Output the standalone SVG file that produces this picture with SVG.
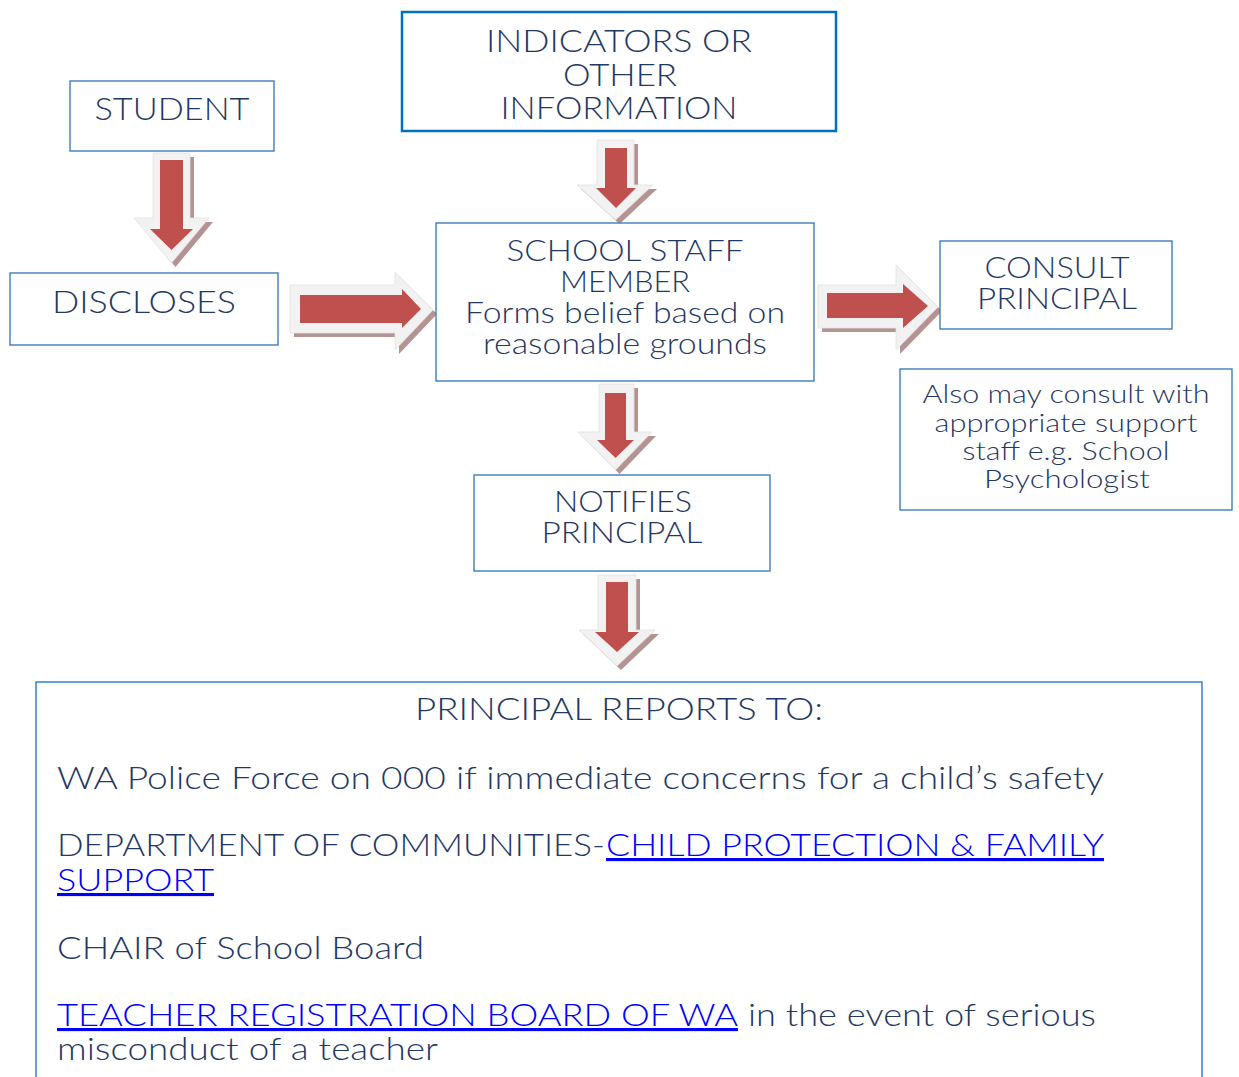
<svg xmlns="http://www.w3.org/2000/svg" width="1239" height="1077" viewBox="0 0 1239 1077">
<style>
.box{fill:#fff;stroke:#2E75B6;stroke-width:1.3}
.t{font-family:Lato,"Noto Sans","Liberation Sans",sans-serif;font-weight:300;fill:#1F3864;font-size:31px}
.c{text-anchor:middle}
.lnk{fill:#0000FF;text-decoration:underline}
.sh{fill:#B59393}
.gr{fill:#F2F2F2;stroke:#E2E2E2;stroke-width:0.8}
.rd{fill:#C0504D}
</style>
<rect width="1239" height="1077" fill="#fff"/>
<g id="connectors">
<g id="arrow-student-discloses">
<path class="sh" transform="translate(4,4)" d="M153,153 H190 V218 H209 L171.5,263 L134,218 H153 Z"/>
<path class="gr" d="M153,153 H190 V218 H209 L171.5,263 L134,218 H153 Z"/>
<path class="rd" d="M160,160 H183 V229 H193 L171.5,250 L150,229 H160 Z"/>
</g>
<g id="arrow-indicators-staff">
<path class="sh" transform="translate(4,4)" d="M597,140 H634 V185 H653 L615.5,220 L577,185 H597 Z"/>
<path class="gr" d="M597,140 H634 V185 H653 L615.5,220 L577,185 H597 Z"/>
<path class="rd" d="M605,148 H627 V188 H636 L616,208 L596,188 H605 Z"/>
</g>
<g id="arrow-staff-notifies">
<path class="sh" transform="translate(4,4)" d="M599,384 H634 V432 H652 L615.5,470 L578,432 H599 Z"/>
<path class="gr" d="M599,384 H634 V432 H652 L615.5,470 L578,432 H599 Z"/>
<path class="rd" d="M605,393 H626 V440 H634 L615.5,458 L597,440 H605 Z"/>
</g>
<g id="arrow-notifies-reports">
<path class="sh" transform="translate(4,4)" d="M598,575 H636 V630 H655 L617,666 L579,630 H598 Z"/>
<path class="gr" d="M598,575 H636 V630 H655 L617,666 L579,630 H598 Z"/>
<path class="rd" d="M606,582 H628 V632 H639 L617,652 L595,632 H606 Z"/>
</g>
<g id="arrow-discloses-staff">
<path class="sh" transform="translate(4,4)" d="M290,285 H395 V272 L433,310 L395,350 V333 H290 Z"/>
<path class="gr" d="M290,285 H395 V272 L433,310 L395,350 V333 H290 Z"/>
<path class="rd" d="M300,295 H402 V289 L421,309 L402,328 V323 H300 Z"/>
</g>
<g id="arrow-staff-consult">
<path class="sh" transform="translate(4,4)" d="M818,285 H896 V265 L938,307 L896,350 V328 H818 Z"/>
<path class="gr" d="M818,285 H896 V265 L938,307 L896,350 V328 H818 Z"/>
<path class="rd" d="M827,293 H903 V284 L928,306 L903,328 V318 H827 Z"/>
</g>
</g>
<g id="student">
<rect class="box" x="70" y="81" width="204" height="70"/>
<text class="t c" x="172" y="120" textLength="155" lengthAdjust="spacingAndGlyphs">STUDENT</text>
</g>
<g id="indicators">
<rect class="box" x="402" y="12" width="434" height="119" style="stroke:#0070C0;stroke-width:2.5"/>
<text class="t c" x="619" y="52" textLength="266" lengthAdjust="spacingAndGlyphs">INDICATORS OR</text>
<text class="t c" x="620" y="86" textLength="114" lengthAdjust="spacingAndGlyphs">OTHER</text>
<text class="t c" x="619" y="119" textLength="237" lengthAdjust="spacingAndGlyphs">INFORMATION</text>
</g>
<g id="discloses">
<rect class="box" x="10" y="273" width="268" height="72"/>
<text class="t c" x="144" y="313" textLength="184" lengthAdjust="spacingAndGlyphs">DISCLOSES</text>
</g>
<g id="staff">
<rect class="box" x="436" y="223" width="378" height="158"/>
<text class="t c" x="625" y="261" style="font-size:29px" textLength="237" lengthAdjust="spacingAndGlyphs">SCHOOL STAFF</text>
<text class="t c" x="625" y="292" style="font-size:29px" textLength="130" lengthAdjust="spacingAndGlyphs">MEMBER</text>
<text class="t c" x="625" y="323" style="font-size:29px" textLength="320" lengthAdjust="spacingAndGlyphs">Forms belief based on</text>
<text class="t c" x="625" y="354" style="font-size:29px" textLength="284" lengthAdjust="spacingAndGlyphs">reasonable grounds</text>
</g>
<g id="consult">
<rect class="box" x="940" y="241" width="232" height="88"/>
<text class="t c" x="1057" y="278" style="font-size:29px" textLength="145" lengthAdjust="spacingAndGlyphs">CONSULT</text>
<text class="t c" x="1057" y="309" style="font-size:29px" textLength="160" lengthAdjust="spacingAndGlyphs">PRINCIPAL</text>
</g>
<g id="also">
<rect class="box" x="900" y="369" width="332" height="141"/>
<text class="t c" x="1066" y="403" style="font-size:25px" textLength="287" lengthAdjust="spacingAndGlyphs">Also may consult with</text>
<text class="t c" x="1066" y="432" style="font-size:25px" textLength="263" lengthAdjust="spacingAndGlyphs">appropriate support</text>
<text class="t c" x="1066" y="460" style="font-size:25px" textLength="207" lengthAdjust="spacingAndGlyphs">staff e.g. School</text>
<text class="t c" x="1067" y="488" style="font-size:25px" textLength="166" lengthAdjust="spacingAndGlyphs">Psychologist</text>
</g>
<g id="notifies">
<rect class="box" x="474" y="475" width="296" height="96"/>
<text class="t c" x="623" y="512" style="font-size:29px" textLength="138" lengthAdjust="spacingAndGlyphs">NOTIFIES</text>
<text class="t c" x="622" y="543" style="font-size:29px" textLength="161" lengthAdjust="spacingAndGlyphs">PRINCIPAL</text>
</g>
<g id="reports">
<rect class="box" x="36" y="682" width="1166" height="410" style="stroke:#2F80CF;stroke-width:1.5"/>
<text class="t c" x="619" y="720" textLength="408" lengthAdjust="spacingAndGlyphs">PRINCIPAL REPORTS TO:</text>
<text class="t" x="57" y="789" textLength="1047" lengthAdjust="spacingAndGlyphs">WA Police Force on 000 if immediate concerns for a child’s safety</text>
<text class="t" x="57" y="856" textLength="548" lengthAdjust="spacingAndGlyphs">DEPARTMENT OF COMMUNITIES-</text>
<text class="t lnk" x="606" y="856" textLength="498" lengthAdjust="spacingAndGlyphs">CHILD PROTECTION &amp; FAMILY</text>
<text class="t lnk" x="57" y="891" textLength="157" lengthAdjust="spacingAndGlyphs">SUPPORT</text>
<text class="t" x="57" y="959" textLength="367" lengthAdjust="spacingAndGlyphs">CHAIR of School Board</text>
<text class="t lnk" x="57" y="1026" textLength="681" lengthAdjust="spacingAndGlyphs">TEACHER REGISTRATION BOARD OF WA</text>
<text class="t" x="748" y="1026" textLength="348" lengthAdjust="spacingAndGlyphs">in the event of serious</text>
<text class="t" x="57" y="1060" textLength="381" lengthAdjust="spacingAndGlyphs">misconduct of a teacher</text>
</g>
</svg>
